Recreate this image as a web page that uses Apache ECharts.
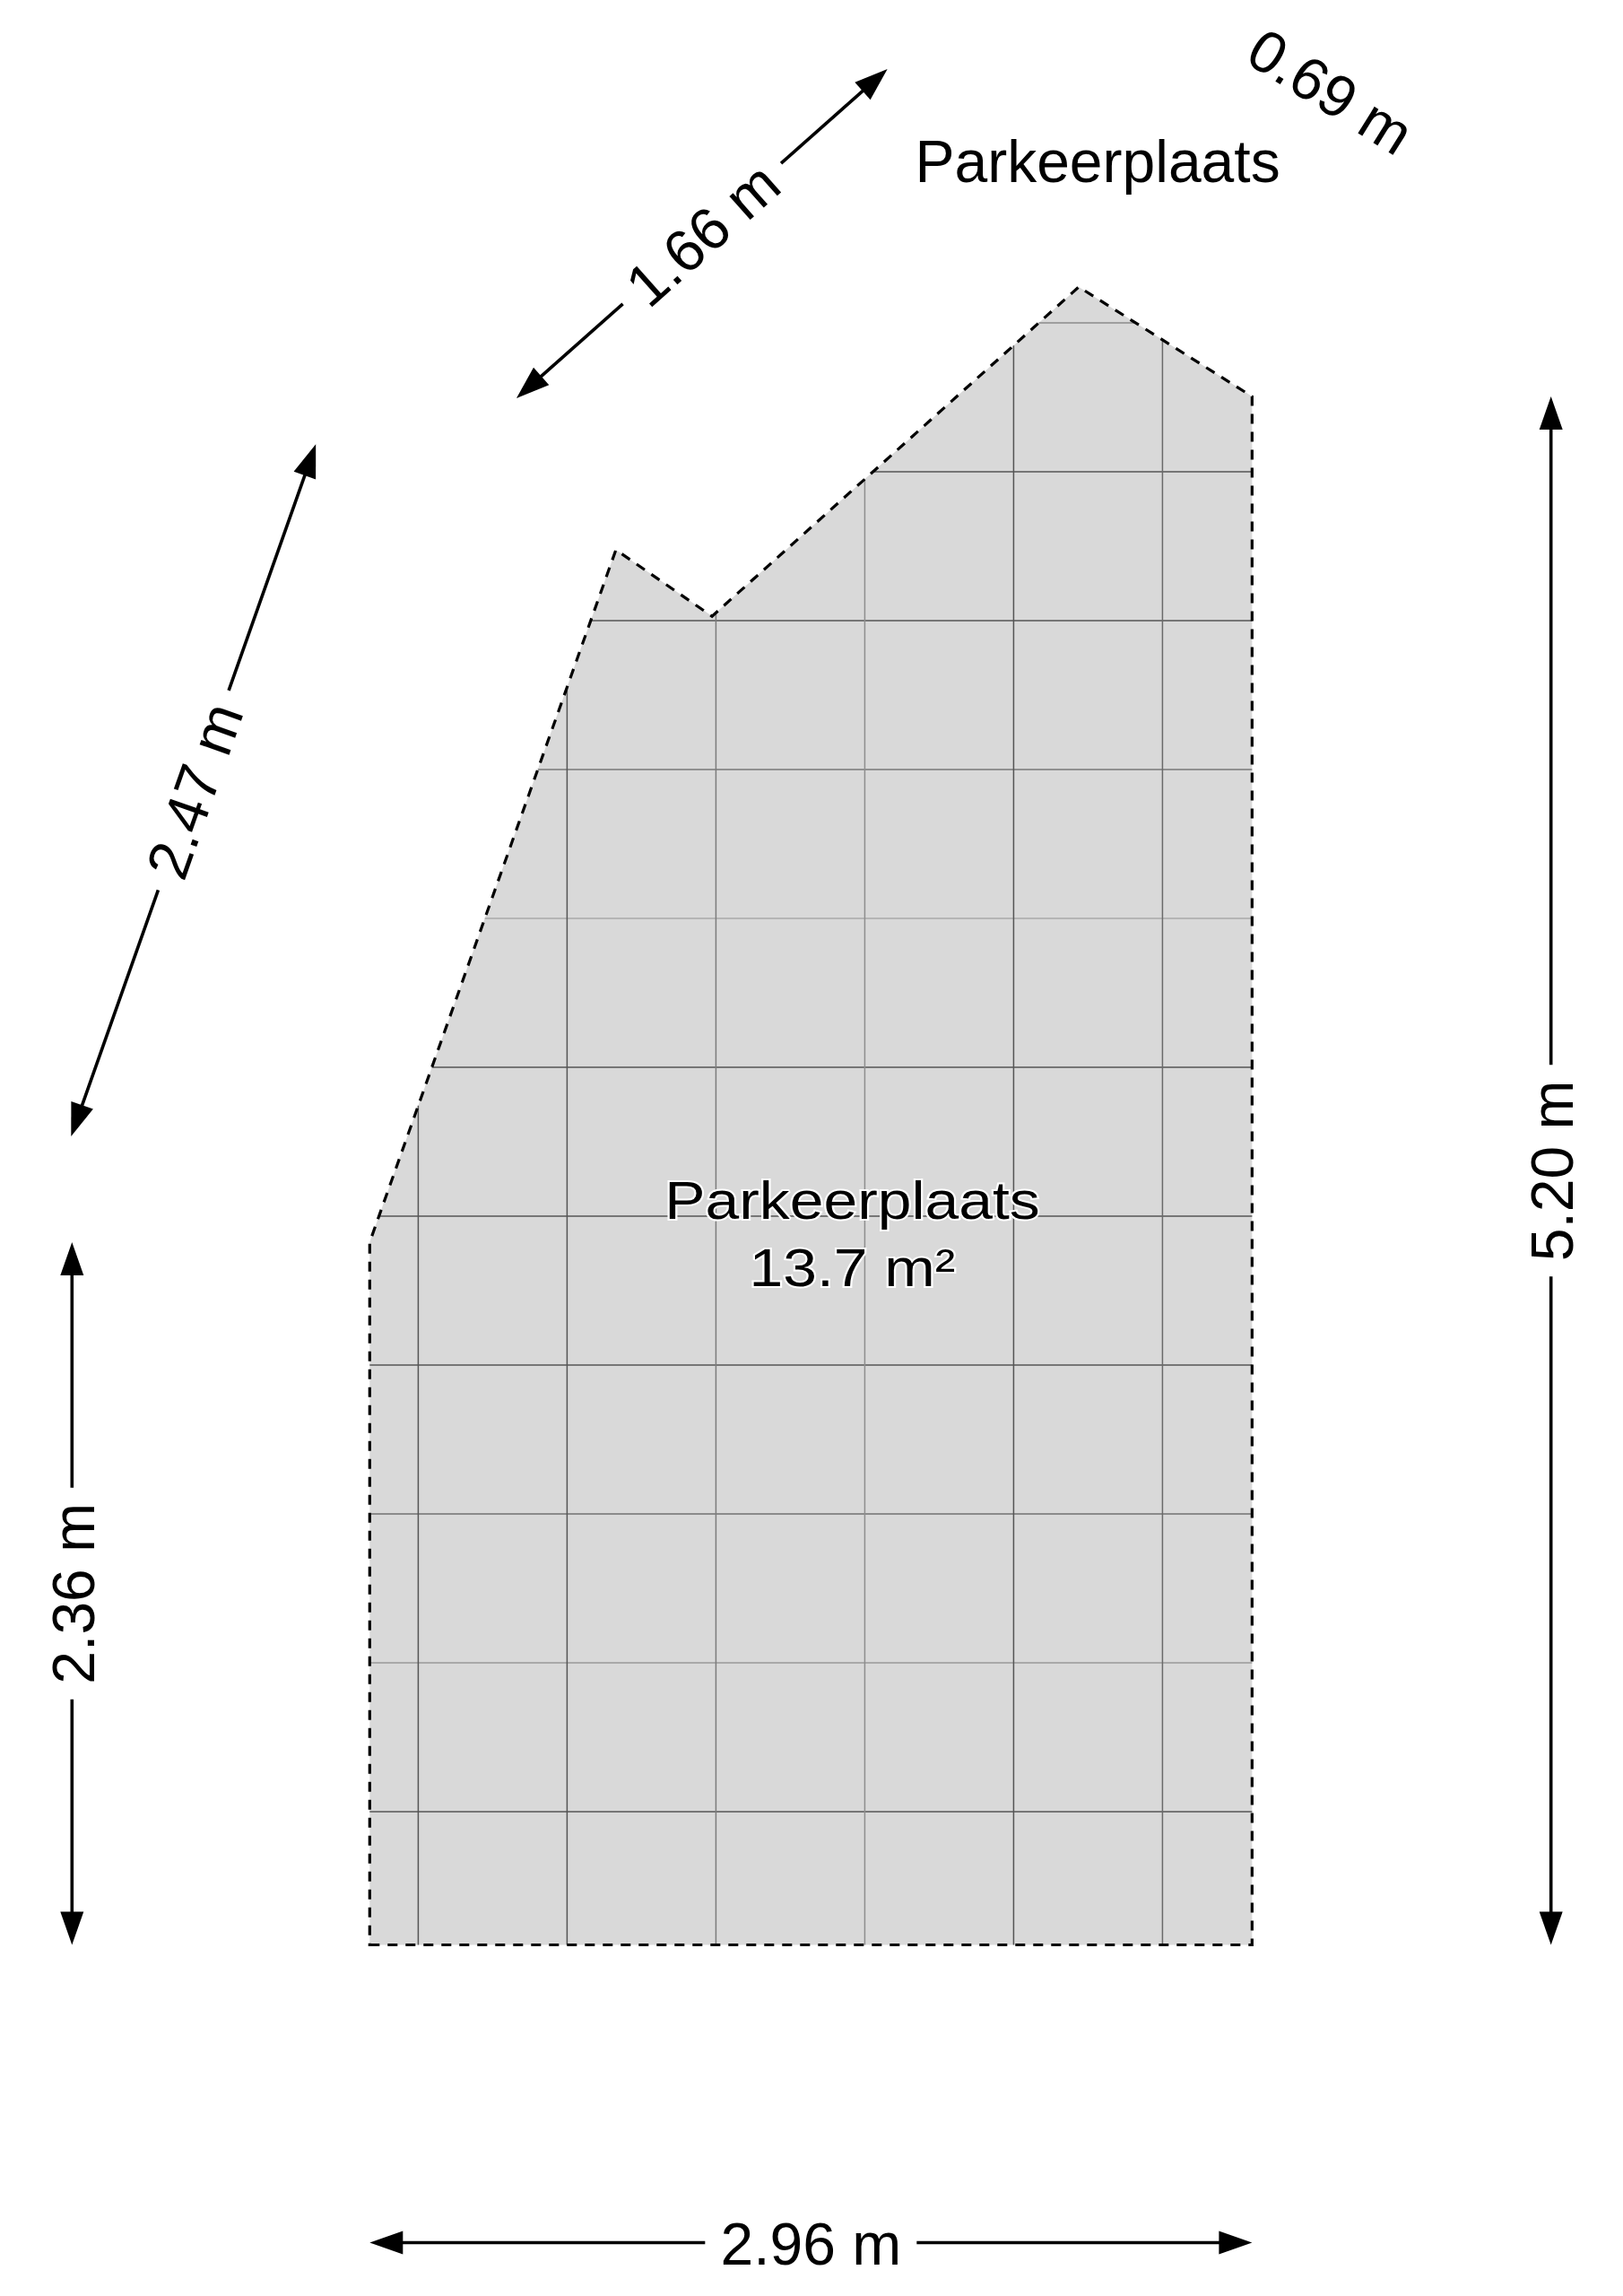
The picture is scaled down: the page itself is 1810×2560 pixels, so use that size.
<!DOCTYPE html>
<html>
<head>
<meta charset="utf-8">
<style>html,body{margin:0;padding:0;background:#fff}#c{width:1810px;height:2560px}</style>
<script src="https://cdn.jsdelivr.net/npm/echarts@6/dist/echarts.min.js"></script>
</head>
<body>
<div id="c"></div>
<script>
// All values in metres, origin at the bottom-left corner of the plot.
const outlineX = [0, 2.964, 2.964, 2.382, 1.150, 0.827, 0];
const outlineY = [0, 0, 5.20, 5.568, 4.462, 4.685, 2.36];
const gridX = [0.163, 0.663, 1.163, 1.663, 2.163, 2.663];
const gridY = [5.447, 4.947, 4.447, 3.947, 3.447, 2.947, 2.447, 1.947, 1.447, 0.947, 0.447];
const gridXShade = ['#555', '#555', '#7c7c7c', '#8e8e8e', '#555', '#6a6a6a'];
const gridYShade = ['#8a8a8a', '#555', '#555', '#777', '#a8a8a8', '#555', '#555', '#555', '#707070', '#999', '#555'];
const dimLabels = ['2.96 m', '5.20 m', '2.36 m', '2.47 m', '1.66 m'];
const dimX1 = [0, 3.968, -1.0, -1.003, 0.493];
const dimY1 = [-1.0, 0, 0, 2.715, 5.194];
const dimX2 = [2.964, 3.968, -1.0, -0.181, 1.739];
const dimY2 = [-1.0, 5.20, 2.36, 5.04, 6.30];
const plainLabels = ['0.69 m', 'Parkeerplaats'];
const plainX = [3.22, 2.445];
const plainY = [6.212, 5.976];
const plainAngle = [-32, 0];
const roomName = 'Parkeerplaats';
const roomArea = '13.7 m²';
const roomX = 1.621;
const roomNameY = 2.489;
const roomAreaY = 2.262;

const PXM = 332, W = 1810, H = 2560, OX = 412.3, OY = 2168.5;
const FONT = '"Liberation Sans", Arial, sans-serif';

function crossings(fixed, isVertical) {
  const out = [];
  const n = outlineX.length;
  for (let i = 0; i < n; i++) {
    const j = (i + 1) % n;
    const a0 = isVertical ? outlineX[i] : outlineY[i], b0 = isVertical ? outlineY[i] : outlineX[i];
    const a1 = isVertical ? outlineX[j] : outlineY[j], b1 = isVertical ? outlineY[j] : outlineX[j];
    if ((a0 <= fixed && a1 > fixed) || (a1 <= fixed && a0 > fixed)) {
      out.push(b0 + (fixed - a0) / (a1 - a0) * (b1 - b0));
    }
  }
  return out.sort((p, q) => p - q);
}
const segments = [];
gridY.forEach((y, k) => {
  const c = crossings(y, false);
  for (let i = 0; i + 1 < c.length; i += 2) segments.push([c[i], y, c[i + 1], y, gridYShade[k]]);
});
gridX.forEach((x, k) => {
  const c = crossings(x, true);
  for (let i = 0; i + 1 < c.length; i += 2) segments.push([x, c[i], x, c[i + 1], gridXShade[k]]);
});

const dims = dimLabels.map((t, i) => [dimX1[i], dimY1[i], dimX2[i], dimY2[i], t]);
const GAP = 118, HEAD_L = 37, HEAD_W = 13, TEXT_DROP = 6;

function head(tip, ux, uy) {
  const bx = tip[0] - ux * HEAD_L, by = tip[1] - uy * HEAD_L;
  return {
    type: 'polygon',
    shape: { points: [tip, [bx - uy * HEAD_W, by + ux * HEAD_W], [bx + uy * HEAD_W, by - ux * HEAD_W]] },
    style: { fill: '#000' }
  };
}

const chart = echarts.init(document.getElementById('c'), null, { renderer: 'canvas' });
chart.setOption({
  animation: false,
  backgroundColor: '#fff',
  grid: { left: 0, right: 0, top: 0, bottom: 0 },
  xAxis: { type: 'value', show: false, min: -OX / PXM, max: (W - OX) / PXM, splitLine: { show: false } },
  yAxis: { type: 'value', show: false, min: (OY - H) / PXM, max: OY / PXM, splitLine: { show: false } },
  series: [
    {
      type: 'custom', z: 1, clip: false, silent: true,
      data: [[0, 0]],
      renderItem: (p, api) => ({
        type: 'polygon',
        shape: { points: outlineX.map((x, i) => api.coord([x, outlineY[i]])) },
        style: { fill: '#d9d9d9' }
      })
    },
    {
      type: 'custom', z: 2, clip: false, silent: true,
      data: segments,
      encode: { x: [0, 2], y: [1, 3] },
      renderItem: (p, api) => {
        const s = segments[p.dataIndex];
        const a = api.coord([s[0], s[1]]), b = api.coord([s[2], s[3]]);
        return {
          type: 'line',
          shape: { x1: a[0], y1: a[1], x2: b[0], y2: b[1] },
          style: { stroke: s[4], lineWidth: 1.5 }
        };
      }
    },
    {
      type: 'custom', z: 3, clip: false, silent: true,
      data: [[0, 0]],
      renderItem: (p, api) => ({
        type: 'polygon',
        shape: { points: outlineX.map((x, i) => api.coord([x, outlineY[i]])) },
        style: { fill: 'none', stroke: '#000', lineWidth: 3.2, lineDash: [11, 9] }
      })
    },
    {
      type: 'custom', z: 4, clip: false, silent: true,
      data: dims.map(d => d.slice(0, 4)),
      renderItem: (p, api) => {
        const d = dims[p.dataIndex];
        const a = api.coord([d[0], d[1]]), b = api.coord([d[2], d[3]]);
        const dx = b[0] - a[0], dy = b[1] - a[1], L = Math.hypot(dx, dy);
        const ux = dx / L, uy = dy / L;
        const mx = (a[0] + b[0]) / 2, my = (a[1] + b[1]) / 2;
        const rot = -Math.atan2(dy, dx);
        const ls = { stroke: '#000', lineWidth: 3.6 };
        return {
          type: 'group',
          children: [
            { type: 'line', shape: { x1: a[0] + ux * HEAD_L * 0.8, y1: a[1] + uy * HEAD_L * 0.8, x2: mx - ux * GAP, y2: my - uy * GAP }, style: ls },
            { type: 'line', shape: { x1: mx + ux * GAP, y1: my + uy * GAP, x2: b[0] - ux * HEAD_L * 0.8, y2: b[1] - uy * HEAD_L * 0.8 }, style: ls },
            head(a, -ux, -uy),
            head(b, ux, uy),
            {
              type: 'text', x: mx + Math.sin(rot) * TEXT_DROP, y: my + Math.cos(rot) * TEXT_DROP, rotation: rot,
              style: { text: d[4], font: '66px ' + FONT, fill: '#000', align: 'center', verticalAlign: 'middle' }
            }
          ]
        };
      }
    },
    {
      type: 'custom', z: 5, clip: false, silent: true,
      data: plainLabels.map((t, i) => [plainX[i], plainY[i]]),
      renderItem: (p, api) => {
        const i = p.dataIndex, c = api.coord([plainX[i], plainY[i]]);
        return {
          type: 'text', x: c[0], y: c[1], rotation: plainAngle[i] * Math.PI / 180,
          style: { text: plainLabels[i], font: '66px ' + FONT, fill: '#000', align: 'center', verticalAlign: 'middle' }
        };
      }
    },
    {
      type: 'custom', z: 6, clip: false, silent: true,
      data: [[roomX, roomNameY], [roomX, roomAreaY]],
      renderItem: (p, api) => {
        const c = api.coord([roomX, p.dataIndex === 0 ? roomNameY : roomAreaY]);
        return {
          type: 'text', x: c[0], y: c[1], scaleX: 1.13, scaleY: 1,
          style: {
            text: p.dataIndex === 0 ? roomName : roomArea,
            font: '60px ' + FONT, fill: '#000', align: 'center', verticalAlign: 'middle',
            stroke: '#fff', lineWidth: 4, strokeFirst: true
          }
        };
      }
    }
  ]
});
</script>
</body>
</html>
